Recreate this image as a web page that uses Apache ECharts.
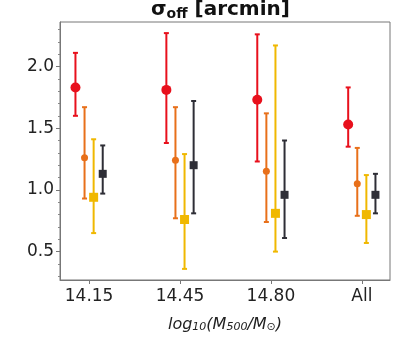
<!DOCTYPE html>
<html>
<head>
<meta charset="utf-8">
<script src="https://cdn.jsdelivr.net/npm/echarts@6/dist/echarts.min.js"></script>
<style>html,body{margin:0;padding:0;background:#fff;}#c{width:394px;height:350px;}</style>
</head>
<body>
<div id="c"></div>
<script>
var categories = ['14.15', '14.45', '14.80', 'All'];
var yTicks = [0.5, 1.0, 1.5, 2.0];
var yMinorTicks = [0.3, 0.4, 0.6, 0.7, 0.8, 0.9, 1.1, 1.2, 1.3, 1.4, 1.6, 1.7, 1.8, 1.9, 2.1, 2.2, 2.3];

var redVal = [1.83, 1.81, 1.73, 1.53];
var redLo  = [1.60, 1.38, 1.23, 1.35];
var redHi  = [2.11, 2.27, 2.26, 1.83];

var orangeVal = [1.26, 1.24, 1.15, 1.05];
var orangeLo  = [0.93, 0.77, 0.74, 0.79];
var orangeHi  = [1.67, 1.67, 1.62, 1.34];

var yellowVal = [0.94, 0.76, 0.81, 0.80];
var yellowLo  = [0.65, 0.36, 0.50, 0.57];
var yellowHi  = [1.41, 1.29, 2.17, 1.12];

var darkVal = [1.13, 1.20, 0.96, 0.96];
var darkLo  = [0.97, 0.81, 0.61, 0.81];
var darkHi  = [1.36, 1.72, 1.40, 1.13];

var seriesDefs = [
  {name: 'red', val: redVal, lo: redLo, hi: redHi, color: '#e8101c', offset: -0.15, symbol: 'circle', size: 10},
  {name: 'orange', val: orangeVal, lo: orangeLo, hi: orangeHi, color: '#e8701a', offset: -0.05, symbol: 'circle', size: 7},
  {name: 'yellow', val: yellowVal, lo: yellowLo, hi: yellowHi, color: '#f0b800', offset: 0.05, symbol: 'rect', size: 9},
  {name: 'dark', val: darkVal, lo: darkLo, hi: darkHi, color: '#2e2e36', offset: 0.15, symbol: 'rect', size: 8}
];

var series = [];
seriesDefs.forEach(function (d) {
  var errData = d.val.map(function (v, i) { return [i + d.offset, d.lo[i], d.hi[i]]; });
  series.push({
    type: 'custom',
    name: d.name + '_err',
    data: errData,
    z: 2,
    renderItem: function (params, api) {
      var x = api.value(0);
      var p1 = api.coord([x, api.value(1)]);
      var p2 = api.coord([x, api.value(2)]);
      var cw = 2.5;
      var style = {stroke: d.color, lineWidth: 2};
      return {
        type: 'group',
        children: [
          {type: 'line', shape: {x1: p1[0], y1: p1[1], x2: p2[0], y2: p2[1]}, style: style},
          {type: 'line', shape: {x1: p1[0] - cw, y1: p1[1], x2: p1[0] + cw, y2: p1[1]}, style: style},
          {type: 'line', shape: {x1: p2[0] - cw, y1: p2[1], x2: p2[0] + cw, y2: p2[1]}, style: style}
        ]
      };
    }
  });
  series.push({
    type: 'scatter',
    name: d.name,
    data: d.val.map(function (v, i) { return [i + d.offset, v]; }),
    symbol: d.symbol,
    symbolSize: d.size,
    itemStyle: {color: d.color, opacity: 1},
    z: 3
  });
});

var chart = echarts.init(document.getElementById('c'), null, {renderer: 'canvas'});
chart.setOption({
  animation: false,
  backgroundColor: '#fff',
  title: {
    text: '{s|σ}{sub|off}{s| [arcmin]}',
    left: 146,
    top: -6,
    textStyle: {
      rich: {
        s: {fontFamily: 'DejaVu Sans', fontWeight: 'bold', fontSize: 20, color: '#111'},
        sub: {fontFamily: 'DejaVu Sans', fontWeight: 'bold', fontSize: 14, color: '#111', verticalAlign: 'bottom', padding: [8, 0, 0, 0]}
      }
    }
  },
  grid: {left: 60, right: 4, top: 22, bottom: 70, show: true, borderColor: '#777', borderWidth: 1, backgroundColor: 'transparent'},
  xAxis: {
    type: 'value',
    min: -0.32,
    max: 3.31,
    splitLine: {show: false},
    axisLine: {show: true, onZero: false, lineStyle: {color: '#777', width: 1}},
    axisTick: {show: true, customValues: [0, 1, 2, 3], length: 4, lineStyle: {color: '#777'}},
    axisLabel: {
      customValues: [0, 1, 2, 3],
      formatter: function (v) { return categories[Math.round(v)]; },
      fontFamily: 'DejaVu Sans', fontSize: 17, color: '#222', margin: 8
    },
    name: '{i|log}{isub|10}{i|(M}{isub|500}{i|/M}{isub|⊙}{i|)}',
    nameLocation: 'middle',
    nameGap: 36,
    nameTextStyle: {
      rich: {
        i: {fontFamily: 'DejaVu Sans', fontStyle: 'italic', fontSize: 16, color: '#222'},
        isub: {fontFamily: 'DejaVu Sans', fontStyle: 'italic', fontSize: 11, color: '#222', verticalAlign: 'bottom', padding: [6, 0, 0, 0]}
      }
    }
  },
  yAxis: [{
    type: 'value',
    min: 0.27,
    max: 2.36,
    splitLine: {show: false},
    axisLine: {show: true, onZero: false, lineStyle: {color: '#777', width: 1}},
    axisTick: {show: true, customValues: yTicks, length: 4, lineStyle: {color: '#777'}},
    axisLabel: {
      customValues: yTicks,
      formatter: function (v) { return v.toFixed(1); },
      fontFamily: 'DejaVu Sans', fontSize: 17, color: '#222', margin: 6
    }
  }, {
    type: 'value',
    position: 'left',
    min: 0.27,
    max: 2.36,
    splitLine: {show: false},
    axisLine: {show: false, onZero: false},
    axisTick: {show: true, customValues: yMinorTicks, length: 2, lineStyle: {color: '#888'}},
    axisLabel: {show: false}
  }],
  series: series
});
</script>
</body>
</html>
